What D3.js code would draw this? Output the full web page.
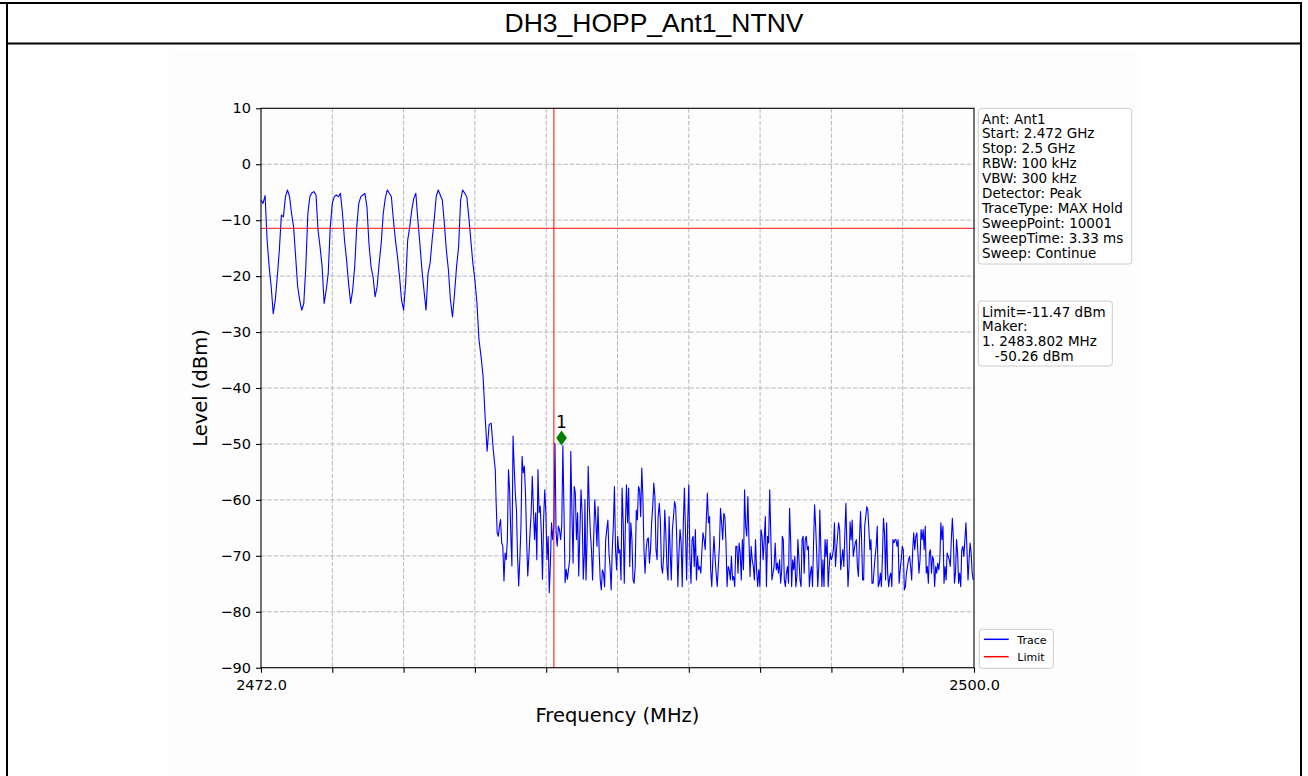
<!DOCTYPE html>
<html>
<head>
<meta charset="utf-8">
<script src="https://cdn.jsdelivr.net/npm/d3@7/dist/d3.min.js"></script>
<style>
  html, body { margin: 0; padding: 0; background: #ffffff; }
  svg { display: block; }
  text { font-family: "DejaVu Sans", sans-serif; fill: #000; }
</style>
</head>
<body>
<svg id="chart" width="1308" height="776"></svg>
<script>
// ---------------- data ----------------
const chartTitle = "DH3_HOPP_Ant1_NTNV";
const freqStart = 2472.0;      // MHz
const freqStop = 2500.0;       // MHz
const levelMin = -90;
const levelMax = 10;
const yTickValues = [10, 0, -10, -20, -30, -40, -50, -60, -70, -80, -90];
const xTickValues = [2472.0, 2474.8, 2477.6, 2480.4, 2483.2, 2486.0, 2488.8, 2491.6, 2494.4, 2497.2, 2500.0];
const xTickLabels = ["2472.0", "", "", "", "", "", "", "", "", "", "2500.0"];
const limitLevel = -11.47;     // dBm
const limitFreq = 2483.5;      // MHz (band edge)
const markerFreq = 2483.802;   // MHz
const markerLevel = -50.26;    // dBm
const infoLines = ["Ant: Ant1", "Start: 2.472 GHz", "Stop: 2.5 GHz", "RBW: 100 kHz", "VBW: 300 kHz",
  "Detector: Peak", "TraceType: MAX Hold", "SweepPoint: 10001", "SweepTime: 3.33 ms", "Sweep: Continue"];
const markerLines = ["Limit=-11.47 dBm", "Maker:", "1. 2483.802 MHz", "   -50.26 dBm"];
const legendNames = ["Trace", "Limit"];

// trace, in four pieces; each piece is evenly spread from its start to its stop frequency (MHz)
const hopRange = [2472.0, 2481.2];      // hopping channels
const hopLevels = [
  -6.4, -7.0, -5.6, -13.6, -18.3, -21.9, -26.7, -24.3, -20.1, -15.4,
  -9.1, -9.4, -5.8, -4.6, -5.8, -8.8, -11.2, -16.5, -21.9, -24.3,
  -26.1, -24.9, -18.3, -8.8, -5.8, -5.1, -4.9, -5.5, -11.8, -14.8,
  -18.3, -24.9, -22.5, -19.5, -11.2, -7.0, -5.8, -5.5, -5.8, -5.2,
  -8.8, -13.6, -17.1, -21.3, -24.9, -22.5, -18.3, -11.2, -7.0, -5.8,
  -5.5, -5.2, -7.6, -14.2, -18.3, -20.1, -23.7, -21.9, -17.7, -14.2,
  -8.8, -6.1, -4.6, -5.2, -5.8, -10.0, -13.6, -16.5, -20.1, -24.3,
  -26.1, -21.3, -13.6, -11.2, -8.2, -6.1, -5.2, -10.0, -14.2, -18.9,
  -22.5, -26.1, -19.5, -17.7, -13.6, -10.0, -5.8, -4.6, -5.5, -6.4,
  -10.6, -15.4, -18.9, -24.3, -27.3, -23.1, -18.3, -14.8, -6.4, -4.6,
  -5.2, -5.8, -9.4, -13.6, -17.7, -20.7, -24.8, -31.4, -34.3, -37.9,
  -45.0, -51.3, -46.5, -46.3, -51.0, -54.6
];
const edgeRange = [2481.23, 2484.70];   // band edge
const edgeLevels = [
  -59.9, -65.9, -66.5, -64.7, -63.5, -67.7, -68.3, -74.5, -69.5, -70.7,
  -67.1, -54.6, -58.2, -65.9, -71.8, -48.6, -54.0, -58.8, -61.7, -70.1,
  -75.4, -70.7, -64.7, -52.2, -55.2, -54.0, -58.8, -67.1, -73.6, -70.1,
  -65.9, -62.3, -55.8, -61.7, -67.1, -62.3, -70.7, -54.6, -62.3, -61.1,
  -65.9, -74.2, -63.5, -58.2, -62.3, -70.7, -66.5, -76.6, -71.3, -64.1,
  -67.1, -64.7, -49.9, -65.9, -68.3, -64.7, -65.3, -67.1, -64.7, -50.3,
  -62.3, -74.8, -72.4, -74.2, -72.4, -70.7, -51.3, -62.3, -71.3, -57.6,
  -58.8, -67.1, -62.3, -73.6, -65.9, -58.2, -62.3, -74.2, -69.5
];
const noiseRangeA = [2484.72, 2492.45];
const noiseLevelsA = [
  -60.0, -74.3, -67.1, -54.0, -61.2, -65.9, -68.9, -74.3, -67.1, -60.0,
  -63.6, -68.3, -61.2, -68.9, -74.3, -76.1, -72.5, -73.1, -75.5, -67.1,
  -65.3, -63.6, -69.5, -71.9, -76.1, -68.9, -64.7, -57.6, -68.9, -72.5,
  -66.5, -69.5, -68.9, -74.3, -57.9, -64.1, -74.9, -64.7, -57.3, -64.1,
  -57.9, -71.9, -64.1, -67.1, -74.3, -74.9, -71.9, -61.8, -63.6, -57.6,
  -58.2, -63.0, -54.3, -59.4, -68.9, -73.1, -68.9, -67.1, -66.8, -71.3,
  -68.9, -64.1, -61.2, -57.0, -59.4, -68.9, -70.7, -63.0, -60.6, -63.6,
  -71.9, -73.1, -70.1, -61.8, -65.9, -71.9, -74.3, -63.0, -69.5, -74.3,
  -65.3, -63.0, -60.3, -61.2, -67.1, -75.5, -69.5, -65.3, -67.7, -75.5,
  -64.1, -57.9, -65.9, -74.3, -64.1, -57.3, -70.1, -74.9, -67.1, -66.5,
  -71.9, -65.3, -74.3, -70.1, -72.5, -71.9, -73.1, -68.9, -65.9, -67.1,
  -68.9, -63.6, -58.8, -64.1, -63.0, -72.5, -75.5, -70.7, -66.5, -70.1,
  -73.1, -75.5, -71.9, -68.3, -61.5, -64.1, -67.1, -62.4, -63.0, -67.7,
  -75.5, -71.9, -72.5, -74.3, -70.1, -74.3, -73.7, -75.5, -68.3, -68.3,
  -73.1, -67.7, -69.5, -74.3, -67.1, -72.5, -58.2, -64.7, -66.5, -59.4,
  -67.1, -73.7, -68.3, -70.7, -71.9, -74.3, -67.1, -72.5, -75.5, -72.5,
  -75.5, -65.3, -66.5, -70.7, -67.1, -63.0, -75.5, -66.5, -67.7, -58.2,
  -66.5, -74.3, -73.1, -71.9, -67.7, -72.5, -71.3, -73.1, -70.7, -74.9,
  -72.5
];
const noiseRangeB = [2492.47, 2499.97];
const noiseLevelsB = [
  -66.5, -67.1, -74.3, -75.5, -73.1, -71.9, -74.9, -61.5, -67.1, -75.5,
  -70.7, -72.5, -70.1, -75.5, -73.7, -67.1, -70.7, -74.3, -75.5, -67.1,
  -66.5, -73.1, -67.1, -66.5, -68.9, -68.3, -75.5, -73.1, -71.9, -75.5,
  -67.7, -60.9, -64.7, -69.5, -75.5, -71.9, -61.8, -68.9, -75.5, -70.7,
  -75.5, -67.1, -70.1, -67.1, -75.5, -71.9, -69.5, -70.7, -70.1, -68.9,
  -64.1, -71.9, -68.9, -66.5, -64.1, -65.3, -72.5, -70.7, -68.9, -71.9,
  -65.9, -60.6, -68.9, -75.5, -71.9, -63.9, -67.1, -63.6, -70.1, -68.9,
  -67.7, -67.1, -71.9, -73.7, -67.1, -62.1, -67.1, -74.3, -74.3, -64.7,
  -63.0, -61.2, -61.8, -65.3, -68.9, -67.1, -74.9, -74.9, -72.5, -70.1,
  -68.3, -64.7, -75.5, -74.9, -73.1, -75.5, -70.1, -63.3, -65.9, -74.3,
  -64.1, -73.1, -75.5, -73.7, -73.1, -75.5, -67.1, -67.7, -67.1, -67.1,
  -68.3, -67.1, -74.9, -72.5, -70.7, -68.3, -68.9, -76.1, -75.5, -73.1,
  -71.9, -70.7, -70.1, -71.9, -74.3, -68.9, -65.9, -68.9, -66.5, -65.9,
  -69.5, -73.1, -70.7, -65.3, -67.1, -65.3, -68.9, -64.7, -73.1, -71.9,
  -74.9, -69.5, -68.9, -73.1, -70.1, -70.7, -75.5, -71.9, -73.1, -71.3,
  -72.5, -70.7, -64.1, -67.1, -64.7, -74.9, -71.9, -74.3, -69.5, -70.1,
  -70.7, -71.9, -67.1, -63.3, -67.1, -74.9, -73.1, -67.1, -69.5, -74.9,
  -73.1, -75.5, -68.9, -68.3, -70.1, -67.1, -64.1, -68.9, -74.3, -70.7,
  -67.7, -69.5, -73.1, -74.3
];

// ---------------- layout ----------------
const svg = d3.select("#chart");
const plot = { left: 261, right: 974, top: 108.3, bottom: 667.7 };

// page frame
svg.append("rect").attr("x", 169).attr("y", 50).attr("width", 969).attr("height", 726).attr("fill", "#fdfdfd");
svg.append("line").attr("x1", 0).attr("x2", 1302).attr("y1", 3).attr("y2", 3).attr("stroke", "#000").attr("stroke-width", 2);
svg.append("line").attr("x1", 7).attr("x2", 1302).attr("y1", 43.5).attr("y2", 43.5).attr("stroke", "#000").attr("stroke-width", 2);
svg.append("line").attr("x1", 7).attr("x2", 7).attr("y1", 2).attr("y2", 776).attr("stroke", "#000").attr("stroke-width", 2);
svg.append("line").attr("x1", 1301).attr("x2", 1301).attr("y1", 2).attr("y2", 776).attr("stroke", "#000").attr("stroke-width", 2);
svg.append("text").attr("x", 654).attr("y", 32).attr("text-anchor", "middle")
  .style("font-family", "'Liberation Sans', Arial, sans-serif").style("font-size", "26.5px").text(chartTitle);

const x = d3.scaleLinear().domain([freqStart, freqStop]).range([plot.left, plot.right]);
const y = d3.scaleLinear().domain([levelMin, levelMax]).range([plot.bottom, plot.top]);

// grid
const gridG = svg.append("g");
gridG.selectAll("line.gx").data(xTickValues.slice(1, -1)).join("line")
  .attr("x1", d => x(d)).attr("x2", d => x(d)).attr("y1", plot.top).attr("y2", plot.bottom)
  .attr("stroke", "#b0b0b0").attr("stroke-width", 0.9).attr("stroke-dasharray", "4.4,1.9");
gridG.selectAll("line.gy").data(yTickValues.slice(1, -1)).join("line")
  .attr("y1", d => y(d)).attr("y2", d => y(d)).attr("x1", plot.left).attr("x2", plot.right)
  .attr("stroke", "#b0b0b0").attr("stroke-width", 0.9).attr("stroke-dasharray", "4.4,1.9");

// trace
function piece(range, levels) {
  const f = d3.scaleLinear().domain([0, levels.length - 1]).range(range);
  return levels.map((v, i) => ({ f: f(i), v }));
}
const traceData = [].concat(
  piece(hopRange, hopLevels),
  piece(edgeRange, edgeLevels),
  piece(noiseRangeA, noiseLevelsA),
  piece(noiseRangeB, noiseLevelsB)
);
const line = d3.line().x(d => x(d.f)).y(d => y(d.v));
svg.append("path").datum(traceData).attr("d", line).attr("fill", "none")
  .attr("stroke", "#0000ff").attr("stroke-width", 1.1).attr("stroke-linejoin", "round");

// limit lines
svg.append("line").attr("x1", plot.left).attr("x2", plot.right).attr("y1", y(limitLevel)).attr("y2", y(limitLevel))
  .attr("stroke", "#ff0000").attr("stroke-width", 1.3).attr("stroke-opacity", 0.75);
svg.append("line").attr("x1", x(limitFreq)).attr("x2", x(limitFreq)).attr("y1", plot.top).attr("y2", plot.bottom)
  .attr("stroke", "#ff0000").attr("stroke-width", 1.3).attr("stroke-opacity", 0.75);

// marker
const mx = x(markerFreq), my = y(markerLevel) - 7.5;
const dp = d3.path();
dp.moveTo(0, -7.5); dp.lineTo(5.3, 0); dp.lineTo(0, 7.5); dp.lineTo(-5.3, 0); dp.closePath();
svg.append("path").attr("d", dp.toString()).attr("transform", `translate(${mx},${my})`).attr("fill", "#008000");
svg.append("text").attr("x", mx).attr("y", my - 9.5).attr("text-anchor", "middle")
  .style("font-size", "17px").text("1");

// axes
const axB = d3.axisBottom(x).tickValues(xTickValues).tickFormat((d, i) => xTickLabels[i]).tickSize(5).tickPadding(7);
const axL = d3.axisLeft(y).tickValues(yTickValues).tickFormat(d => d < 0 ? "\u2212" + Math.abs(d) : String(d)).tickSize(5).tickPadding(5);
const gB = svg.append("g").attr("transform", `translate(0,${plot.bottom})`).call(axB);
const gL = svg.append("g").attr("transform", `translate(${plot.left},0)`).call(axL);
[gB, gL].forEach(g => {
  g.select(".domain").remove();
  g.selectAll(".tick line").attr("stroke", "#000").attr("stroke-width", 1.1);
  g.selectAll(".tick text").style("font-family", "'DejaVu Sans', sans-serif").style("font-size", "14.5px").attr("fill", "#000");
});
svg.append("rect").attr("x", plot.left).attr("y", plot.top).attr("width", plot.right - plot.left)
  .attr("height", plot.bottom - plot.top).attr("fill", "none").attr("stroke", "#000").attr("stroke-width", 1.1);

// axis labels
svg.append("text").attr("transform", `translate(207,${(plot.top + plot.bottom) / 2}) rotate(-90)`)
  .attr("text-anchor", "middle").style("font-size", "19.5px").text("Level (dBm)");
svg.append("text").attr("x", (plot.left + plot.right) / 2).attr("y", 722).attr("text-anchor", "middle")
  .style("font-size", "19.5px").text("Frequency (MHz)");

// info boxes
function infoBox(x0, y0, w, h, lines, base, step) {
  svg.append("rect").attr("x", x0).attr("y", y0).attr("width", w).attr("height", h).attr("rx", 3)
    .attr("fill", "#ffffff").attr("fill-opacity", 0.8).attr("stroke", "#cccccc").attr("stroke-width", 1);
  svg.append("g").selectAll("text").data(lines).join("text")
    .attr("x", x0 + 3.7).attr("y", (d, i) => base + i * step)
    .style("font-size", "13.5px").style("white-space", "pre").attr("xml:space", "preserve").text(d => d);
}
infoBox(978.3, 108.3, 153.4, 155.7, infoLines, 123.5, 14.9);
infoBox(978.3, 301, 134, 65, markerLines, 316.5, 14.9);

// legend
const lg = svg.append("g");
lg.append("rect").attr("x", 979.3).attr("y", 629.3).attr("width", 74).attr("height", 39).attr("rx", 2.5)
  .attr("fill", "#ffffff").attr("fill-opacity", 0.8).attr("stroke", "#cccccc").attr("stroke-width", 1);
const legendColors = ["#0000ff", "#ff0000"];
legendNames.forEach((n, i) => {
  const yy = 639.3 + i * 17.4;
  lg.append("line").attr("x1", 984).attr("x2", 1008.7).attr("y1", yy).attr("y2", yy)
    .attr("stroke", legendColors[i]).attr("stroke-width", 1.5);
  lg.append("text").attr("x", 1017.3).attr("y", yy + 4.3).style("font-size", "11px").text(n);
});
</script>
</body>
</html>
